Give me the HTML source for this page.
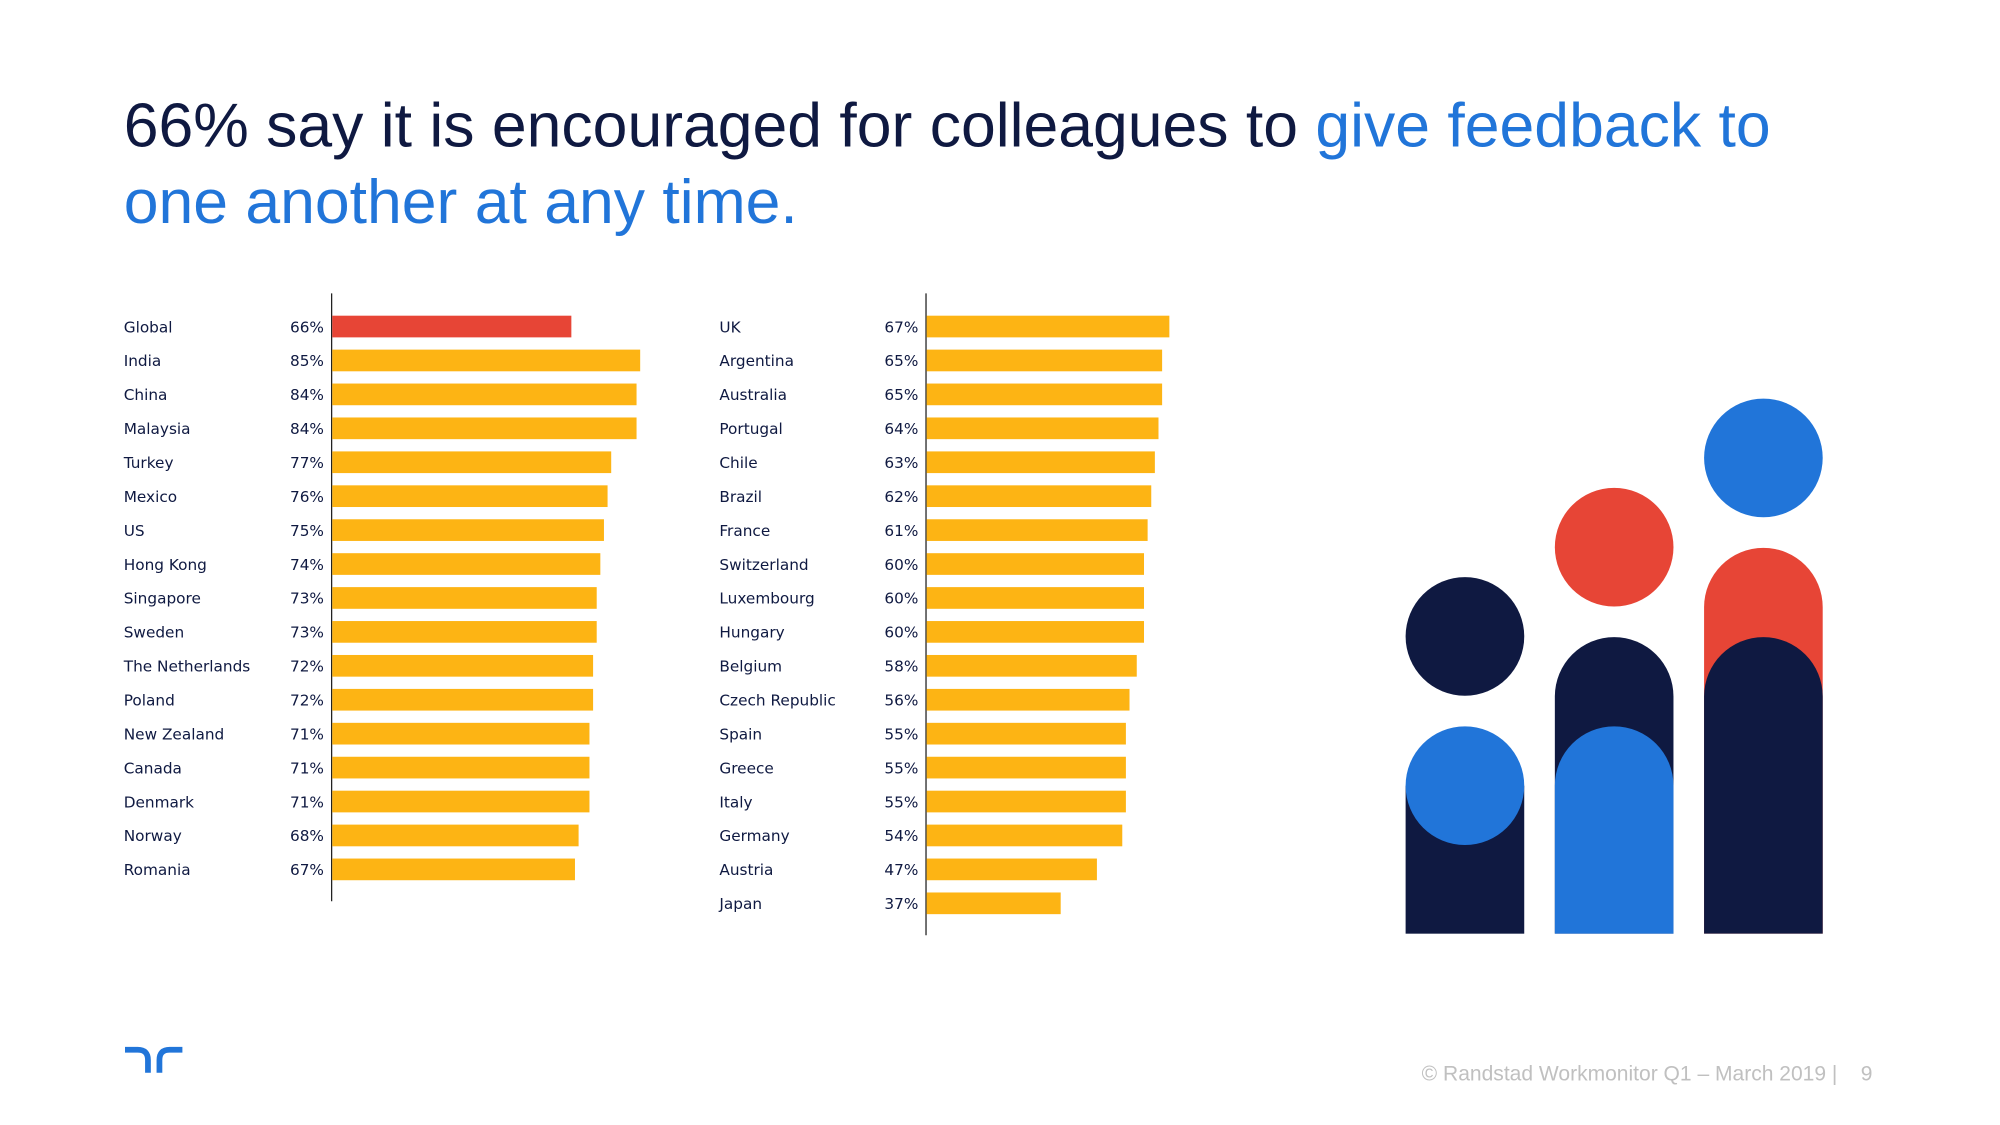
<!DOCTYPE html>
<html><head><meta charset="utf-8"><style>
html,body{margin:0;padding:0;background:#fff;}
svg{display:block;}
text{font-family:"DejaVu Sans","Liberation Sans",sans-serif;}
</style></head><body>
<svg id="chart" width="2000" height="1125" viewBox="0 0 1568 882" xmlns="http://www.w3.org/2000/svg">
<rect width="1568" height="882" fill="#fff"/>
<text x="97" y="115" font-size="49" fill="#0f1941" style="font-family:'Liberation Sans',sans-serif">66% say it is encouraged for colleagues to <tspan fill="#2175d9">give feedback to</tspan></text>
<text x="97" y="175" font-size="49" fill="#2175d9" style="font-family:'Liberation Sans',sans-serif">one another at any time.</text>
<g id="left-chart"></g>
<g id="right-chart"></g>
<g>
  <rect x="1102" y="616" width="93" height="116" fill="#0f1941"/>
  <circle cx="1148.5" cy="616" r="46.5" fill="#2175d9"/>
  <circle cx="1148.5" cy="499" r="46.5" fill="#0f1941"/>
  <path d="M1219 732 V546 A46.5 46.5 0 0 1 1312 546 V732Z" fill="#0f1941"/>
  <path d="M1219 732 V616 A46.5 46.5 0 0 1 1312 616 V732Z" fill="#2175d9"/>
  <circle cx="1265.5" cy="429" r="46.5" fill="#e74536"/>
  <path d="M1336 732 V476 A46.5 46.5 0 0 1 1429 476 V732Z" fill="#e74536"/>
  <path d="M1336 732 V546 A46.5 46.5 0 0 1 1429 546 V732Z" fill="#0f1941"/>
  <circle cx="1382.5" cy="359" r="46.5" fill="#2175d9"/>
</g>
<g fill="none" stroke="#2175d9" stroke-width="4.5">
  <path d="M98 823 H108 Q116 823 116 831 V841"/>
  <path d="M143 823 H133 Q125 823 125 831 V841"/>
</g>
<text x="1468" y="847" text-anchor="end" font-size="16.5" fill="#c0c0c0" style="font-family:'Liberation Sans',sans-serif">© Randstad Workmonitor Q1 – March 2019 |&#160;&#160;&#160;&#160;9</text>
</svg>
<script>
const leftCategories=["Global","India","China","Malaysia","Turkey","Mexico","US","Hong Kong","Singapore","Sweden","The Netherlands","Poland","New Zealand","Canada","Denmark","Norway","Romania"];
const leftValues=[66,85,84,84,77,76,75,74,73,73,72,72,71,71,71,68,67];
const rightCategories=["UK","Argentina","Australia","Portugal","Chile","Brazil","France","Switzerland","Luxembourg","Hungary","Belgium","Czech Republic","Spain","Greece","Italy","Germany","Austria","Japan"];
const rightValues=[67,65,65,64,63,62,61,60,60,60,58,56,55,55,55,54,47,37];
const NS="http://www.w3.org/2000/svg";
function xScale(v){return v*2.84;}
function yScale(i){return 256+i*26.6;}
function draw(gid,cats,vals,labelX,axisX,highlightFirst){
  const g=document.getElementById(gid);
  const ax=document.createElementNS(NS,"line");
  
  
  ax.setAttribute("x1",axisX);ax.setAttribute("x2",axisX);
  ax.setAttribute("y1",230);ax.setAttribute("y2",yScale(cats.length-1)+25);
  ax.setAttribute("stroke","#222");ax.setAttribute("stroke-width","1");
  g.appendChild(ax);
  cats.forEach((c,i)=>{
    const y=yScale(i);
    const t=document.createElementNS(NS,"text");
    
    
    t.setAttribute("x",labelX);t.setAttribute("y",y+4.5);
    t.setAttribute("font-size","12");t.setAttribute("fill","#0f1941");
    t.textContent=c;g.appendChild(t);
    const v=document.createElementNS(NS,"text");
    
    
    v.setAttribute("x",axisX-6);v.setAttribute("y",y+4.5);
    v.setAttribute("text-anchor","end");
    v.setAttribute("font-size","12");v.setAttribute("fill","#0f1941");
    v.textContent=vals[i]+"%";g.appendChild(v);
    const r=document.createElementNS(NS,"rect");
    
    
    r.setAttribute("x",axisX+0.5);r.setAttribute("y",y-8.5);
    r.setAttribute("width",xScale(vals[i]));r.setAttribute("height",17);
    r.setAttribute("fill",(highlightFirst&&i===0)?"#e74536":"#fdb414");
    g.appendChild(r);
  });
}
draw("left-chart",leftCategories,leftValues,97,260,true);
draw("right-chart",rightCategories,rightValues,564,726,false);
</script>
</body></html>
